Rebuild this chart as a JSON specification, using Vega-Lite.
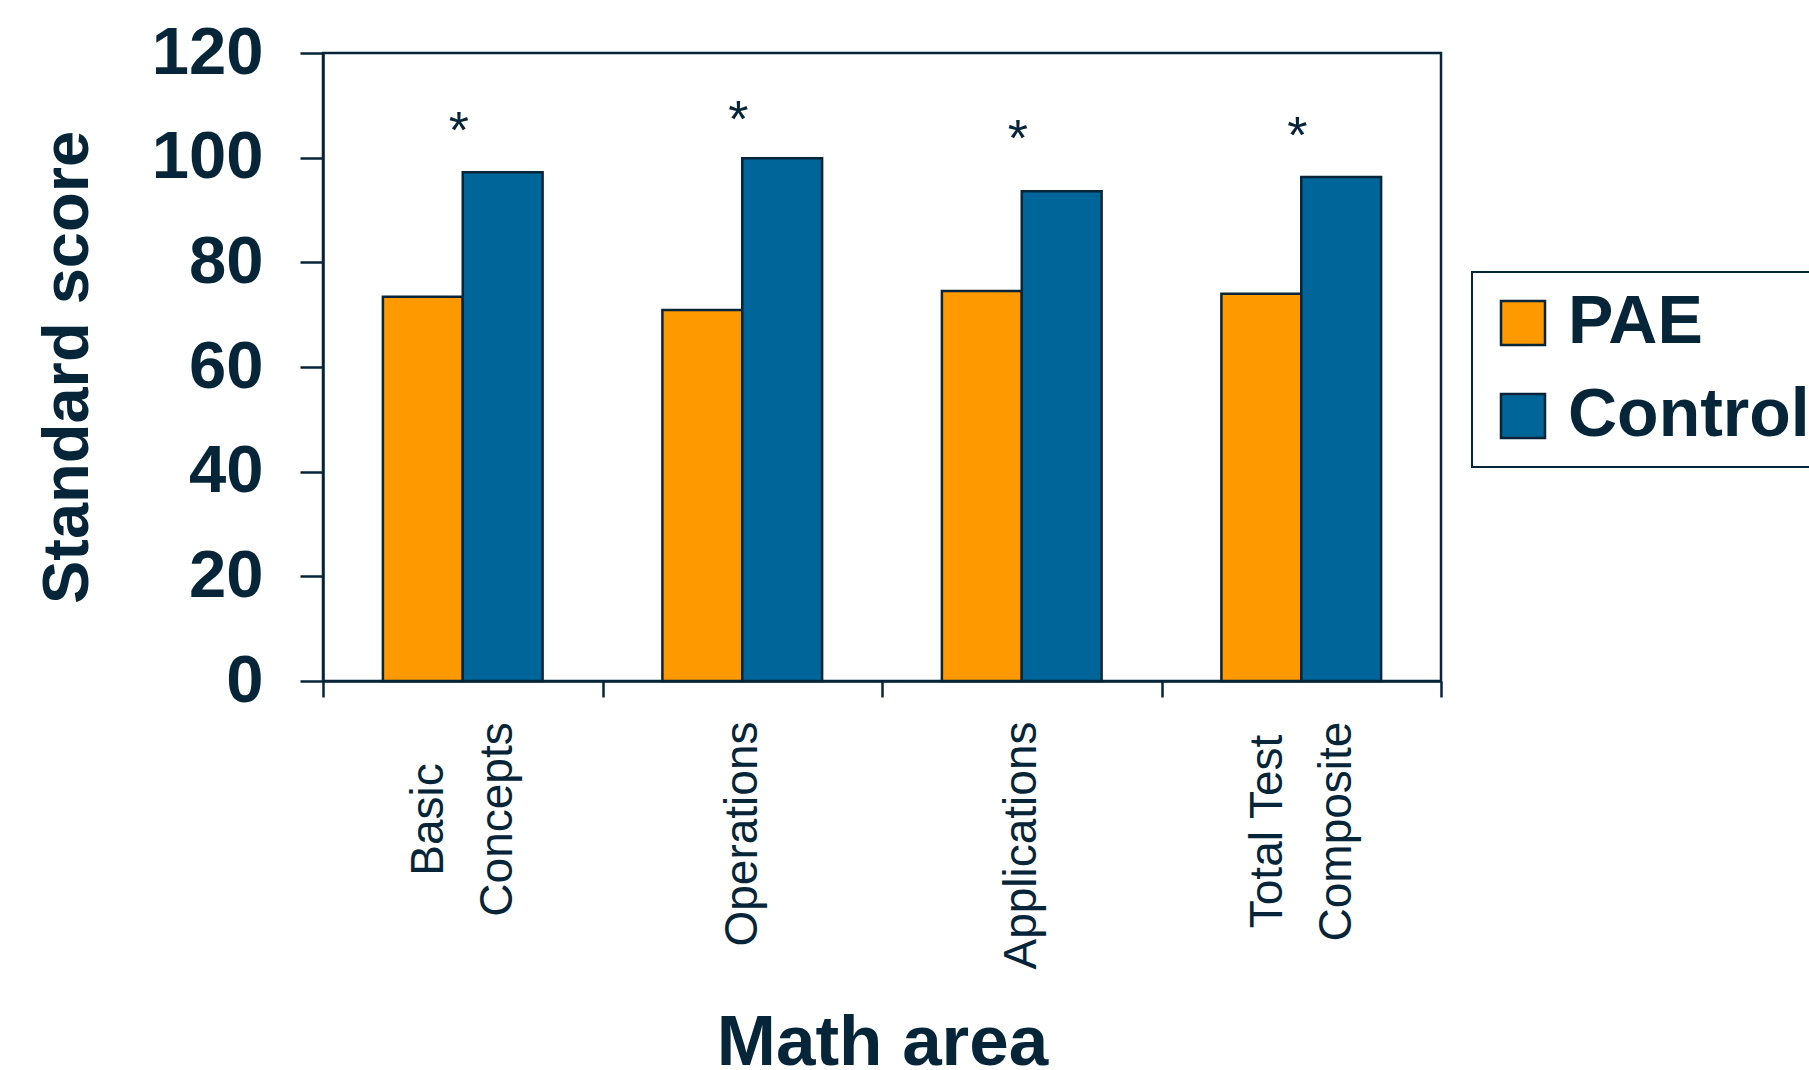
{
  "$schema": "https://vega.github.io/schema/vega-lite/v6.json",
  "autosize": {"type": "none"},
  "padding": {"left": 323, "top": 53, "right": 368, "bottom": 389},
  "width": 1118,
  "height": 628,
  "background": "white",
  "config": {
    "font": "Liberation Sans",
    "view": {"stroke": "#062538", "strokeWidth": 2.5},
    "axis": {"domainColor": "#062538", "domainWidth": 2.5, "tickColor": "#062538", "tickWidth": 2.5, "labelColor": "#062538", "titleColor": "#062538", "grid": false},
    "legend": {"strokeColor": "#062538", "strokeWidth": 2}
  },
  "datasets": {
    "scores": [
      {"area": "Basic Concepts", "group": "PAE", "score": 73.4},
      {"area": "Basic Concepts", "group": "Control", "score": 97.2},
      {"area": "Operations", "group": "PAE", "score": 70.9},
      {"area": "Operations", "group": "Control", "score": 99.9},
      {"area": "Applications", "group": "PAE", "score": 74.5},
      {"area": "Applications", "group": "Control", "score": 93.6},
      {"area": "Total Test Composite", "group": "PAE", "score": 74.0},
      {"area": "Total Test Composite", "group": "Control", "score": 96.3}
    ],
    "stars": [
      {"area": "Basic Concepts", "score": 105.0, "sig": "*"},
      {"area": "Operations", "score": 107.1, "sig": "*"},
      {"area": "Applications", "score": 103.3, "sig": "*"},
      {"area": "Total Test Composite", "score": 103.9, "sig": "*"}
    ]
  },
  "layer": [
    {
      "data": {"name": "scores"},
      "mark": {"type": "bar", "stroke": "#062538", "strokeWidth": 2.5},
      "encoding": {
        "x": {
          "field": "area", "type": "nominal",
          "sort": ["Basic Concepts", "Operations", "Applications", "Total Test Composite"],
          "scale": {"paddingInner": 0, "paddingOuter": 0},
          "axis": {
            "title": "Math area",
            "titleFontSize": 71, "titleFontWeight": "bold", "titleY": 383, "titleBaseline": "alphabetic",
            "labelAngle": 270,
            "labelAlign": {"condition": {"test": "datum.value == 'Basic Concepts' || datum.value == 'Total Test Composite'", "value": "center"}, "value": "right"},
            "labelPadding": {"condition": [
              {"test": "datum.value == 'Basic Concepts'", "value": 122},
              {"test": "datum.value == 'Total Test Composite'", "value": 134}
            ], "value": 24},
            "labelOffset": {"condition": {"test": "datum.value == 'Basic Concepts' || datum.value == 'Total Test Composite'", "value": -34}, "value": 0},
            "labelBaseline": "middle",
            "labelFontSize": 46, "labelFontWeight": "normal", "labelLineHeight": 69, "labelLimit": 0,
            "tickSize": 16, "tickBand": "extent",
            "labelExpr": "datum.label == 'Basic Concepts' ? ['Basic', 'Concepts'] : datum.label == 'Total Test Composite' ? ['Total Test', 'Composite'] : datum.label"
          }
        },
        "xOffset": {
          "field": "group", "type": "nominal", "sort": ["PAE", "Control"],
          "scale": {"paddingInner": 0, "paddingOuter": 0.75}
        },
        "y": {
          "field": "score", "type": "quantitative",
          "scale": {"domain": [0, 120], "nice": false},
          "axis": {
            "title": "Standard score",
            "values": [0, 20, 40, 60, 80, 100, 120],
            "titleFontSize": 65, "titleFontWeight": "bold", "titlePadding": 50,
            "labelFontSize": 67, "labelFontWeight": "bold", "labelPadding": 37,
            "tickSize": 23
          }
        },
        "color": {
          "field": "group", "type": "nominal",
          "scale": {"domain": ["PAE", "Control"], "range": ["#FF9900", "#006699"]},
          "legend": {
            "title": null, "orient": "none", "legendX": 1149, "legendY": 219,
            "strokeColor": "#062538", "padding": 17, "fillColor": "white",
            "symbolType": "square", "symbolSize": 1936, "symbolStrokeColor": "#062538", "symbolStrokeWidth": 2.5, "symbolOpacity": 1,
            "labelFontSize": 68, "labelFontWeight": "bold", "labelColor": "#062538", "labelOffset": 11, "labelLimit": 0,
            "rowPadding": 25
          }
        }
      }
    },
    {
      "data": {"name": "stars"},
      "mark": {"type": "text", "fontSize": 52, "color": "#062538", "baseline": "middle", "align": "center", "dx": -4},
      "encoding": {
        "x": {"field": "area", "type": "nominal", "sort": ["Basic Concepts", "Operations", "Applications", "Total Test Composite"]},
        "y": {"field": "score", "type": "quantitative"},
        "text": {"field": "sig"}
      }
    }
  ]
}
